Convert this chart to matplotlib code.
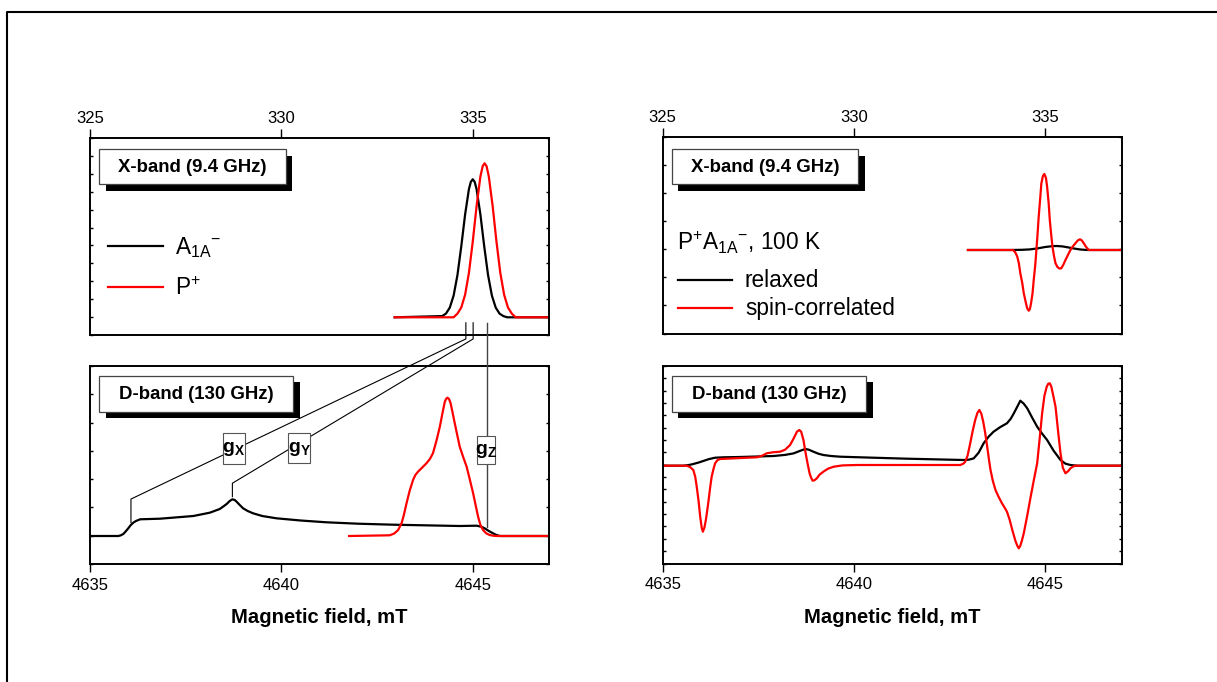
import matplotlib
matplotlib.use("Agg")
import matplotlib.pyplot as plt
import numpy as np
from matplotlib.lines import Line2D
from matplotlib.patches import Rectangle

plt.rcParams["font.family"] = ["Liberation Sans", "DejaVu Sans"]
plt.rcParams["mathtext.default"] = "regular"

# X-band (9.4 GHz), field in mT, intensity in arbitrary units (baseline = 0)
xb_a1a_field = [332.96, 334.2, 334.3, 334.4, 334.5, 334.6, 334.7, 334.8, 334.9, 334.95,
                335.0, 335.05, 335.1, 335.2, 335.3, 335.4, 335.5, 335.6, 335.7, 335.8,
                335.9, 337.0]
xb_a1a_int = [0, 1.2, 3.7, 9.7, 21.7, 42.2, 70.9, 102.7, 128.2, 135.5,
              138, 135.5, 128.2, 102.7, 70.9, 42.2, 21.7, 9.7, 3.7, 1.2,
              0, 0]
xb_p_field = [332.96, 334.5, 334.6, 334.7, 334.8, 334.9, 335.0, 335.1, 335.2, 335.26,
              335.31, 335.36, 335.42, 335.52, 335.62, 335.72, 335.82, 335.92, 336.02,
              336.12, 337.0]
xb_p_int = [0, 0, 3.7, 9.8, 22.5, 44.4, 75.6, 111.2, 140.8, 151.2,
            154, 151.2, 140.8, 111.2, 75.6, 44.4, 22.5, 9.8, 3.7,
            0, 0]

# D-band (130 GHz)
db_a1a_field = [4635.0, 4635.74, 4635.8, 4635.87, 4635.93, 4636.0, 4636.06, 4636.13,
                4636.2, 4636.31, 4636.83, 4637.7, 4638.13, 4638.39, 4638.5, 4638.57,
                4638.65, 4638.72, 4638.78, 4638.83, 4638.9, 4639.0, 4639.12, 4639.26,
                4639.5, 4639.87, 4640.5, 4641.18, 4642.0, 4642.92, 4644.66, 4645.1,
                4645.22, 4645.31, 4645.42, 4645.53, 4645.62, 4645.71, 4647.0]
db_a1a_int = [0, 0, 0.6, 2, 4.5, 7.7, 10.7, 13.3,
              15, 16.7, 17.3, 20, 23.3, 27, 30, 32,
              35, 36.7, 36, 34.3, 31.5, 27.7, 25, 22.7,
              20, 17.7, 15.5, 13.7, 12.3, 11.3, 10, 10.3,
              9.3, 7.7, 5, 2.7, 1, 0, 0]
db_p_field = [4641.77, 4642.83, 4642.95, 4643.05, 4643.14, 4643.2, 4643.27, 4643.35,
              4643.44, 4643.5, 4643.57, 4643.68, 4643.79, 4643.88, 4643.96, 4644.05,
              4644.14, 4644.21, 4644.27, 4644.31, 4644.34, 4644.38, 4644.42, 4644.47,
              4644.53, 4644.6, 4644.66, 4644.75, 4644.84, 4644.92, 4645.01, 4645.08,
              4645.14, 4645.2, 4645.27, 4645.35, 4645.44, 4645.55, 4645.62, 4647.0]
db_p_int = [0, 0.7, 2.5, 6, 12.7, 21, 32.7, 45,
            56, 61, 64.3, 68.5, 72.7, 77, 82.7, 95,
            109.3, 123, 134.3, 137.5, 138.3, 137, 133, 124,
            112.7, 100, 89.3, 79, 69.3, 57, 42.7, 30,
            19.3, 11, 6, 2.7, 1, 0.2, 0, 0]

# P+A1A-, 100 K: relaxed and spin-correlated
xr_rel_field = [332.98, 334.1, 334.4, 334.6, 334.8, 335.0, 335.2, 335.3, 335.45, 335.6,
                335.75, 335.9, 336.05, 336.14, 337.0]
xr_rel_int = [0, 0, 0.2, 0.6, 1.6, 3, 3.9, 4, 3.6, 2.6,
              1.5, 0.6, 0.1, 0, 0]
xr_sc_field = [332.98, 334.16, 334.22, 334.27, 334.31, 334.35, 334.4, 334.44, 334.49,
               334.53, 334.57, 334.6, 334.63, 334.67, 334.7, 334.74, 334.77, 334.8,
               334.83, 334.87, 334.9, 334.94, 334.98, 335.02, 335.05, 335.09, 335.12,
               335.16, 335.19, 335.23, 335.27, 335.32, 335.37, 335.42, 335.47, 335.53,
               335.6, 335.66, 335.72, 335.79, 335.85, 335.91, 335.96, 336.01, 336.07,
               336.14, 337.0]
xr_sc_int = [0, 0, -2.5, -6.7, -13, -23.3, -33, -43.3, -52,
             -58.3, -60.7, -59, -53.3, -43, -30, -15, 0, 16,
             33.3, 52, 66.7, 74, 76, 72, 63.3, 47, 30,
             14, 3.3, -6, -13.3, -17, -18.5, -18.3, -15, -10,
             -4.5, 0, 3.5, 6.7, 9.5, 10.7, 9.5, 6.7, 3,
             0, 0]

dr_rel_field = [4635.0, 4635.54, 4635.7, 4635.8, 4635.95, 4636.06, 4636.2, 4636.37,
                4636.6, 4637.02, 4637.9, 4638.2, 4638.42, 4638.6, 4638.73, 4638.82,
                4638.94, 4639.07, 4639.2, 4639.4, 4639.64, 4640.5, 4641.39, 4642.87,
                4643.0, 4643.13, 4643.26, 4643.39, 4643.52, 4643.65, 4643.82, 4644.0,
                4644.1, 4644.18, 4644.27, 4644.35, 4644.44, 4644.53, 4644.66, 4644.79,
                4644.92, 4645.05, 4645.22, 4645.4, 4645.53, 4645.66, 4645.84, 4647.0]
dr_rel_int = [0, 0, 0.8, 1.7, 3.3, 4.7, 6.5, 8,
              8.4, 8.7, 9.7, 10.8, 12.3, 15, 16.7, 16,
              14, 12, 10.7, 9.7, 9, 8, 7, 5.7,
              6, 7.3, 13, 22.4, 29, 34, 38.5, 42.4,
              47, 52.4, 59, 65, 62, 57.4, 48, 39,
              32, 25.7, 15, 5.7, 2, 0.7, 0, 0]
dr_sc_field = [4635.0, 4635.63, 4635.72, 4635.8, 4635.85, 4635.89, 4635.94, 4635.98,
               4636.02, 4636.05, 4636.09, 4636.13, 4636.19, 4636.24, 4636.28, 4636.33,
               4636.37, 4636.43, 4636.5, 4637.0, 4637.46, 4637.6, 4637.72, 4637.9,
               4638.07, 4638.2, 4638.33, 4638.42, 4638.51, 4638.57, 4638.62, 4638.68,
               4638.73, 4638.77, 4638.81, 4638.84, 4638.88, 4638.92, 4638.97, 4639.03,
               4639.1, 4639.2, 4639.32, 4639.47, 4639.7, 4640.08, 4642.78, 4642.86,
               4642.91, 4642.97, 4643.04, 4643.1, 4643.17, 4643.23, 4643.28, 4643.33,
               4643.38, 4643.43, 4643.48, 4643.53, 4643.57, 4643.63, 4643.7, 4643.78,
               4643.87, 4643.94, 4644.0, 4644.07, 4644.14, 4644.22, 4644.27, 4644.31,
               4644.35, 4644.39, 4644.44, 4644.53, 4644.62, 4644.7, 4644.79, 4644.85,
               4644.92, 4644.98, 4645.04, 4645.08, 4645.12, 4645.16, 4645.2, 4645.27,
               4645.33, 4645.4, 4645.46, 4645.53, 4645.6, 4645.66, 4645.73, 4645.79,
               4647.0]
dr_sc_int = [0, 0, -1.5, -4.3, -11, -21, -36, -51,
             -62, -66, -62, -54, -37.6, -22, -11, -3,
             2.4, 5.5, 6.7, 7.6, 8.4, 10, 12.4, 13.5,
             14, 16, 20.7, 27, 34, 35.7, 34, 25.7,
             14, 5.7, -2, -7.6, -12, -15, -14.5, -12.6,
             -9, -6, -3, -1, 0.3, 0.7, 0.7, 2,
             4, 10, 22.4, 34, 45.7, 53, 55.7, 52,
             44, 33, 20, 6, -4.3, -15, -24.3, -31,
             -37.6, -42, -46, -54, -64.3, -75, -80, -82.6,
             -80, -75, -67.6, -50, -31, -15, 2.4, 25,
             52.4, 70, 79, 82, 82.4, 79, 72, 59,
             37, 12.4, -2, -7.6, -5.5, -2.6, -0.8, 0,
             0]

# g-tensor positions (X-band / D-band fields, mT)
g_labels = ["X", "Y", "Z"]
g_field_x = [334.82, 335.01, 335.36]
g_field_d = [4636.07, 4638.72, 4645.36]

x_ticks = [325, 330, 335]
d_ticks = [4635, 4640, 4645]

W, H = 1217, 682
fig = plt.figure(figsize=(W / 100, H / 100), dpi=100)


def px_rect(x0, y0, x1, y1):
    return [x0 / W, 1 - y1 / H, (x1 - x0) / W, (y1 - y0) / H]


def px(x, y):
    return x / W, 1 - y / H


def style_axes(ax, xlim, ylim, n_int, ticks, on_top):
    ax.set_xlim(xlim)
    ax.set_ylim(ylim)
    for sp in ax.spines.values():
        sp.set_linewidth(1.4)
    ax.set_yticks(np.linspace(ylim[0], ylim[1], n_int + 1))
    ax.tick_params(axis="y", direction="in", length=2.5, width=1,
                   left=True, right=True, labelleft=False)
    ax.set_xticks(ticks, [str(t) for t in ticks])
    if on_top:
        ax.tick_params(axis="x", direction="out", length=6.5, width=1, labelsize=12,
                       pad=2, top=True, bottom=False, labeltop=True, labelbottom=False)
    else:
        ax.tick_params(axis="x", direction="out", length=6, width=1, labelsize=12,
                       pad=4, top=False, bottom=True)


def band_box(x0, y0, x1, y1, text):
    sh = 6.7
    fig.add_artist(Rectangle(px(x0 + sh, y1 + sh), (x1 - x0) / W, (y1 - y0) / H,
                             transform=fig.transFigure, fc="black", ec="none", zorder=5))
    fig.add_artist(Rectangle(px(x0, y1), (x1 - x0) / W, (y1 - y0) / H,
                             transform=fig.transFigure, fc="white", ec="#444444",
                             lw=0.9, zorder=6))
    fig.text(*px((x0 + x1) / 2, (y0 + y1) / 2 + 1), text, ha="center", va="center",
             fontsize=13.4, fontweight="bold", zorder=7)


ax_xl = fig.add_axes(px_rect(90, 138, 549.3, 335))
ax_dl = fig.add_axes(px_rect(90, 366, 549.3, 564))
ax_xr = fig.add_axes(px_rect(662.7, 137.3, 1121.7, 333.5))
ax_dr = fig.add_axes(px_rect(662.7, 366, 1121.7, 563.5))

style_axes(ax_xl, (325, 337), (-17.7, 179.3), 11, x_ticks, True)
style_axes(ax_dl, (4635, 4647), (-28, 170), 7, d_ticks, False)
style_axes(ax_xr, (325, 337), (-83.5, 112.7), 7, x_ticks, True)
style_axes(ax_dr, (4635, 4647), (-97.8, 99.7), 16, d_ticks, False)

lw = 1.6
red = "#ff0000"
ax_xl.plot(xb_a1a_field, xb_a1a_int, color="black", lw=lw)
ax_xl.plot(xb_p_field, xb_p_int, color=red, lw=lw)
ax_dl.plot(db_a1a_field, db_a1a_int, color="black", lw=lw)
ax_dl.plot(db_p_field, db_p_int, color=red, lw=lw)
ax_xr.plot(xr_rel_field, xr_rel_int, color="black", lw=lw)
ax_xr.plot(xr_sc_field, xr_sc_int, color=red, lw=lw)
ax_dr.plot(dr_rel_field, dr_rel_int, color="black", lw=lw)
ax_dr.plot(dr_sc_field, dr_sc_int, color=red, lw=lw)

for x_c in (319.6, 892.2):
    fig.text(*px(x_c, 622.7), "Magnetic field, mT", ha="center", va="baseline",
             fontsize=14.6, fontweight="bold")

band_box(99.3, 149, 285.7, 184.3, "X-band (9.4 GHz)")
band_box(99.3, 375.7, 293.3, 411.7, "D-band (130 GHz)")
band_box(671.7, 149.3, 858.3, 184.3, "X-band (9.4 GHz)")
band_box(671.7, 375.7, 866, 411.7, "D-band (130 GHz)")

# legends
fig.add_artist(Line2D([108.3 / W, 162.7 / W], [1 - 245.7 / H] * 2, color="black", lw=lw))
fig.add_artist(Line2D([108.3 / W, 162.7 / W], [1 - 286.7 / H] * 2, color=red, lw=lw))
fig.text(*px(175, 254), "A$_{1A}$$^{-}$", va="baseline", fontsize=16.3)
fig.text(*px(175, 295), "P$^{+}$", va="baseline", fontsize=16.3)

fig.text(*px(676.7, 250), "P$^{+}$A$_{1A}$$^{-}$, 100 K", va="baseline", fontsize=16.3)
fig.add_artist(Line2D([677.7 / W, 731.7 / W], [1 - 280 / H] * 2, color="black", lw=lw))
fig.add_artist(Line2D([677.7 / W, 731.7 / W], [1 - 308.3 / H] * 2, color=red, lw=lw))
fig.text(*px(745, 286.7), "relaxed", va="baseline", fontsize=16.3)
fig.text(*px(745, 315), "spin-correlated", va="baseline", fontsize=16.3)

# connector lines between X-band and D-band g-components
to_fig = fig.transFigure.inverted()


def pt(ax, x, yfrac):
    return to_fig.transform(ax.get_xaxis_transform().transform((x, yfrac)))


paths = [
    [pt(ax_xl, g_field_x[0], 0.062), pt(ax_xl, g_field_x[0], -0.02),
     pt(ax_dl, g_field_d[0], 0.328), pt(ax_dl, g_field_d[0], 0.209)],
    [pt(ax_xl, g_field_x[1], 0.062), pt(ax_xl, g_field_x[1], -0.02),
     pt(ax_dl, g_field_d[1], 0.408), pt(ax_dl, g_field_d[1], 0.34)],
    [pt(ax_xl, g_field_x[2], 0.062), pt(ax_dl, g_field_d[2], 0.188)],
]
for i, path in enumerate(paths):
    path = np.array(path)
    fig.add_artist(Line2D(path[:, 0], path[:, 1], transform=fig.transFigure,
                          color="black" if i < 2 else "#444444",
                          lw=0.8 if i < 2 else 1.0, zorder=4))

g_boxes = [(222.7, 432.7, 245, 464), (288.3, 433, 310, 462.7), (476.7, 436, 495.3, 464.3)]
for lab, (x0, y0, x1, y1) in zip(g_labels, g_boxes):
    fig.add_artist(Rectangle(px(x0, y1), (x1 - x0) / W, (y1 - y0) / H,
                             transform=fig.transFigure, fc="white", ec="#555555",
                             lw=0.8, zorder=5))
    fig.text(*px((x0 + x1) / 2, (y0 + y1) / 2 + 1), "g$_{%s}$" % lab, ha="center",
             va="center", fontsize=14, fontweight="bold", zorder=6)

# outer frame (cut off at right and bottom)
fig.add_artist(Line2D([6.5 / W, 6.5 / W, 1.0], [0.0, 1 - 12 / H, 1 - 12 / H],
                      transform=fig.transFigure, color="black", lw=1.5))

fig.savefig("out.png", dpi=100)
